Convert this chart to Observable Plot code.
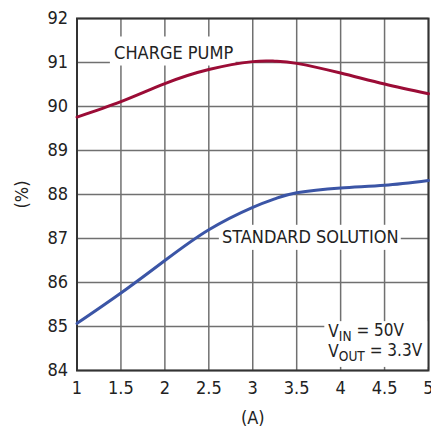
<!DOCTYPE html>
<html><head><meta charset="utf-8">
<script src="https://cdn.jsdelivr.net/npm/d3@7"></script>
<script src="https://cdn.jsdelivr.net/npm/@observablehq/plot@0.6"></script>
<style>
html,body{margin:0;padding:0;background:#fff;}
svg{font-family:"Liberation Sans Narrow","DejaVu Sans Condensed",sans-serif;}
</style></head>
<body><div id="chart"></div>
<script>
const currentA = [1, 1.5, 2, 2.5, 3, 3.25, 3.5, 4, 4.5, 5];
const chargePump = [89.76, 90.11, 90.52, 90.84, 91.02, 91.03, 90.98, 90.76, 90.51, 90.29];
const standard = [85.07, 85.76, 86.5, 87.2, 87.71, 87.9, 88.04, 88.15, 88.21, 88.32];
const xTicks = [1, 1.5, 2, 2.5, 3, 3.5, 4, 4.5, 5];
const yTicks = [84, 85, 86, 87, 88, 89, 90, 91, 92];
const labels = ["CHARGE PUMP", "STANDARD SOLUTION"];
const conditions = ["VIN = 50V", "VOUT = 3.3V"];

const cpData = currentA.map((x, i) => ({x, y: chargePump[i]}));
const stData = currentA.map((x, i) => ({x, y: standard[i]}));
const boxes = [
  {x1: 1.38, x2: 2.81, y1: 90.92, y2: 91.58},
  {x1: 2.62, x2: 4.69, y1: 86.73, y2: 87.3},
  {x1: 3.82, x2: 5, y1: 84.07, y2: 85.11}
];
const labelPos = [
  {x: 2.10, y: 91.2, t: labels[0]},
  {x: 3.655, y: 87.02, t: labels[1]}
];
const condPos = [
  {x: 3.86, y: 84.89, t: conditions[0]},
  {x: 3.86, y: 84.43, t: conditions[1]}
];

const svg = Plot.plot({
  width: 431, height: 426,
  marginLeft: 76.5, marginRight: 3, marginTop: 18, marginBottom: 56,
  style: {fontSize: "18px", fontFamily: "'Liberation Sans Narrow','DejaVu Sans Condensed',sans-serif", color: "#222"},
  x: {domain: [1, 5]},
  y: {domain: [84, 92]},
  marks: [
    Plot.gridX(xTicks, {stroke: "#707070", strokeOpacity: 1, strokeWidth: 1.5}),
    Plot.gridY(yTicks, {stroke: "#707070", strokeOpacity: 1, strokeWidth: 1.5}),
    Plot.rect(boxes, {x1: "x1", x2: "x2", y1: "y1", y2: "y2", fill: "white"}),
    Plot.frame({stroke: "#333", strokeWidth: 2}),
    Plot.line(cpData, {x: "x", y: "y", stroke: "#9b0c36", strokeWidth: 3, curve: "natural"}),
    Plot.line(stData, {x: "x", y: "y", stroke: "#3b55a6", strokeWidth: 3, curve: "natural"}),
    Plot.text(labelPos, {x: "x", y: "y", text: "t", fontSize: 18, fill: "#222"}),
    Plot.text(condPos, {x: "x", y: "y", text: "t", fontSize: 17, fill: "#222", textAnchor: "start"}),
    Plot.axisX(xTicks, {tickSize: 0, tickPadding: 11, fontSize: 18, label: "(A)", labelAnchor: "center", labelArrow: "none", labelOffset: 53, tickFormat: d => String(d)}),
    Plot.axisY(yTicks, {tickSize: 0, tickPadding: 9, fontSize: 18, label: "(%)", labelAnchor: "center", labelArrow: "none", labelOffset: 62, tickFormat: d => String(d)})
  ]
});

// subscripts for VIN / VOUT
d3.select(svg).selectAll("text").each(function() {
  const el = d3.select(this);
  if (this.childElementCount) return;
  const t = this.textContent;
  const m = t.match(/^V(IN|OUT)( = .*)$/);
  if (m) {
    el.text(null);
    el.append("tspan").text("V");
    el.append("tspan").attr("dy", "0.3em").attr("font-size", "0.8em").text(m[1]);
    el.append("tspan").attr("dy", "-0.3em").text(m[2]);
  }
});
document.getElementById("chart").appendChild(svg);
</script></body></html>
